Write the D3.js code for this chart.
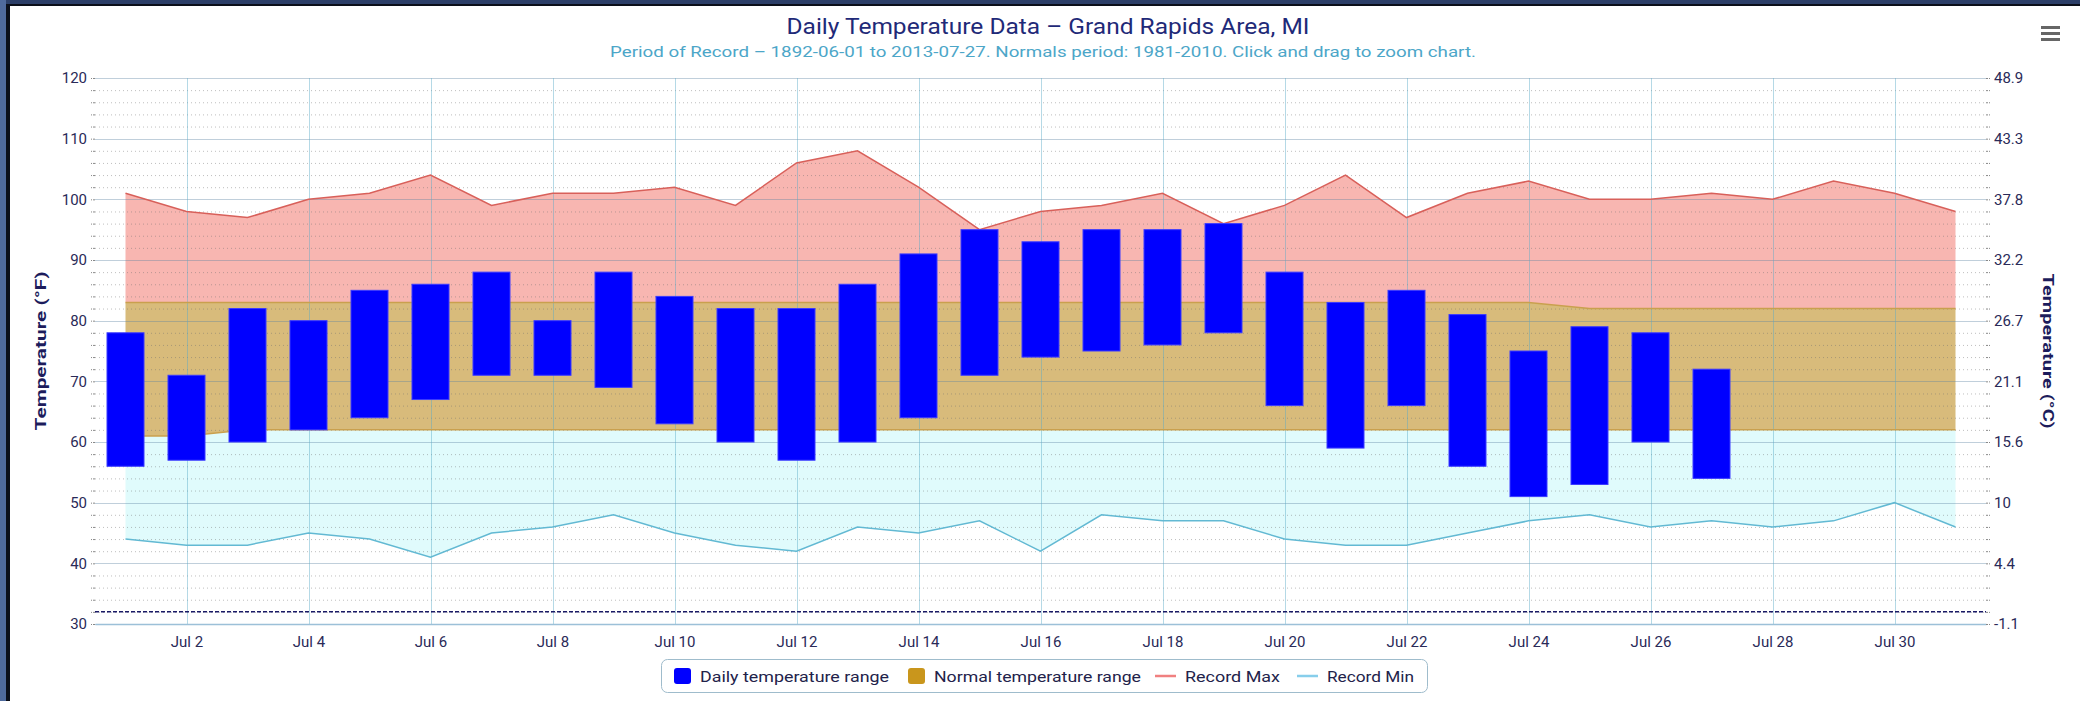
<!DOCTYPE html>
<html><head><meta charset="utf-8">
<script src="https://cdn.jsdelivr.net/npm/d3@7/dist/d3.min.js"></script>
<style>html,body{margin:0;padding:0;background:#fff;} svg{display:block;}</style>
</head><body><svg id="c" width="2080" height="701"></svg>
<script>
// ---------- data ----------
const days = [1,2,3,4,5,6,7,8,9,10,11,12,13,14,15,16,17,18,19,20,21,22,23,24,25,26,27,28,29,30,31];
const recordMax = [101,98,97,100,101,104,99,101,101,102,99,106,108,102,95,98,99,101,96,99,104,97,101,103,100,100,101,100,103,101,98];
const recordMin = [44,43,43,45,44,41,45,46,48,45,43,42,46,45,47,42,48,47,47,44,43,43,45,47,48,46,47,46,47,50,46];
const normalHigh = [83,83,83,83,83,83,83,83,83,83,83,83,83,83,83,83,83,83,83,83,83,83,83,83,82,82,82,82,82,82,82];
const normalLow = [61,61,62,62,62,62,62,62,62,62,62,62,62,62,62,62,62,62,62,62,62,62,62,62,62,62,62,62,62,62,62];
const barDays = [1,2,3,4,5,6,7,8,9,10,11,12,13,14,15,16,17,18,19,20,21,22,23,24,25,26,27];
const dailyHigh = [78,71,82,80,85,86,88,80,88,84,82,82,86,91,95,93,95,95,96,88,83,85,81,75,79,78,72];
const dailyLow  = [56,57,60,62,64,67,71,71,69,63,60,57,60,64,71,74,75,76,78,66,59,66,56,51,53,60,54];
const xTickDays = [2,4,6,8,10,12,14,16,18,20,22,24,26,28,30];
const fTicks = [30,40,50,60,70,80,90,100,110,120];
const cTickLabels = ["-1.1","4.4","10","15.6","21.1","26.7","32.2","37.8","43.3","48.9"];
const freezingF = 32;
const titleText = "Daily Temperature Data – Grand Rapids Area, MI";
const subtitleText = "Period of Record – 1892-06-01 to 2013-07-27. Normals period: 1981-2010. Click and drag to zoom chart.";
const legendItems = ["Daily temperature range","Normal temperature range","Record Max","Record Min"];

// ---------- layout ----------
const FONT = "Roboto, 'Noto Sans', sans-serif";
const L = 95, R = 1986, T = 78, B = 624;
const svg = d3.select("#c");
const date = d => new Date(Date.UTC(2013, 6, d));
const x = d3.scaleUtc().domain([Date.UTC(2013,5,30,12), Date.UTC(2013,6,31,12)]).range([L, R]);
const y = d3.scaleLinear().domain([30, 120]).range([B, T]);

// frame
svg.append("rect").attr("x",0).attr("y",0).attr("width",2080).attr("height",701).attr("fill","#fff");
svg.append("rect").attr("x",0).attr("y",0).attr("width",2080).attr("height",4).attr("fill","#2c3f68");
svg.append("rect").attr("x",0).attr("y",4).attr("width",2080).attr("height",2).attr("fill","#0b0f1a");
svg.append("rect").attr("x",0).attr("y",0).attr("width",6).attr("height",701).attr("fill","#4f6a9c");
svg.append("rect").attr("x",6).attr("y",4).attr("width",4).attr("height",697).attr("fill","#0b0f1a");

const rows = days.map((d,i)=>({day:d, rmax:recordMax[i], rmin:recordMin[i], nh:normalHigh[i], nl:normalLow[i]}));
const xd = r => x(date(r.day));

// areas
svg.append("path").datum(rows).attr("fill","#f8b6b1")
  .attr("d", d3.area().x(xd).y0(r=>y(r.nh)).y1(r=>y(r.rmax)));
svg.append("path").datum(rows).attr("fill","#e0fbfc")
  .attr("d", d3.area().x(xd).y0(r=>y(r.rmin)).y1(r=>y(r.nl)));
svg.append("path").datum(rows).attr("fill","#d8bb7b")
  .attr("d", d3.area().x(xd).y0(r=>y(r.nl)).y1(r=>y(r.nh)));

// grid
const minor = d3.range(30, 121, 2).filter(v => v % 10 !== 0);
svg.append("g").selectAll("line").data(minor).join("line")
  .attr("x1",L).attr("x2",R).attr("y1",d=>y(d)+0.5).attr("y2",d=>y(d)+0.5)
  .attr("stroke","rgba(110,110,110,0.45)").attr("stroke-dasharray","1,3");
svg.append("g").selectAll("line").data(fTicks).join("line")
  .attr("x1",L).attr("x2",R).attr("y1",d=>Math.round(y(d))+0.5).attr("y2",d=>Math.round(y(d))+0.5)
  .attr("stroke","rgba(90,130,160,0.38)");
svg.append("g").selectAll("line").data(xTickDays).join("line")
  .attr("x1",d=>Math.round(x(date(d)))+0.5).attr("x2",d=>Math.round(x(date(d)))+0.5)
  .attr("y1",T).attr("y2",B).attr("stroke","rgba(90,170,200,0.45)");

// boundary lines
svg.append("path").datum(rows).attr("fill","none").attr("stroke","#c9a04e").attr("stroke-width",1.5)
  .attr("d", d3.line().x(xd).y(r=>y(r.nh)));
svg.append("path").datum(rows).attr("fill","none").attr("stroke","#c9a04e").attr("stroke-width",1.5)
  .attr("d", d3.line().x(xd).y(r=>y(r.nl)));
svg.append("path").datum(rows).attr("fill","none").attr("stroke","#d8605a").attr("stroke-width",1.5)
  .attr("d", d3.line().x(xd).y(r=>y(r.rmax)));
svg.append("path").datum(rows).attr("fill","none").attr("stroke","#62b9d3").attr("stroke-width",1.5)
  .attr("d", d3.line().x(xd).y(r=>y(r.rmin)));

// freezing line
svg.append("line").attr("x1",L).attr("x2",R).attr("y1",y(freezingF)).attr("y2",y(freezingF))
  .attr("stroke","#1a1a66").attr("stroke-width",1.5).attr("stroke-dasharray","4,2");

// bars
const bw = 37;
svg.append("g").selectAll("rect").data(barDays).join("rect")
  .attr("x",(d)=>x(date(d))-bw/2).attr("width",bw)
  .attr("y",(d,i)=>y(dailyHigh[i])).attr("height",(d,i)=>y(dailyLow[i])-y(dailyHigh[i]))
  .attr("fill","#0000ff").attr("stroke","#3a3aff").attr("stroke-width",1);

// axes
const labelColor = "#2a2a58";
const xAxis = svg.append("g").attr("transform",`translate(0,${B})`)
  .call(d3.axisBottom(x).tickValues(xTickDays.map(date)).tickFormat(d3.utcFormat("%b %-d")).tickSize(0).tickPadding(12));
xAxis.select(".domain").attr("stroke","#9cc0d8").attr("stroke-width",1.5);
xAxis.selectAll("text").attr("font-family",FONT).attr("font-size",15).attr("fill",labelColor);

const allTicks = d3.range(30,121,2);
const yl = svg.append("g").attr("transform",`translate(${L},0)`)
  .call(d3.axisLeft(y).tickValues(allTicks).tickSize(4).tickPadding(4)
    .tickFormat(d => fTicks.includes(d) ? d : ""));
yl.select(".domain").remove();
yl.selectAll("line").attr("stroke","#888").attr("stroke-dasharray","2,1");
yl.selectAll("text").attr("font-family",FONT).attr("font-size",15).attr("fill",labelColor);

const yr = svg.append("g").attr("transform",`translate(${R},0)`)
  .call(d3.axisRight(y).tickValues(allTicks).tickSize(4).tickPadding(4)
    .tickFormat(d => fTicks.includes(d) ? cTickLabels[fTicks.indexOf(d)] : ""));
yr.select(".domain").remove();
yr.selectAll("line").attr("stroke","#888").attr("stroke-dasharray","2,1");
yr.selectAll("text").attr("font-family",FONT).attr("font-size",15).attr("fill",labelColor);

// axis titles
svg.append("text").attr("transform",`translate(46,${(T+B)/2}) rotate(-90)`)
  .attr("text-anchor","middle").attr("font-family",FONT).attr("font-weight","bold")
  .attr("font-size",15).attr("fill","#1c1c5c").attr("textLength",159).attr("lengthAdjust","spacingAndGlyphs")
  .text("Temperature (°F)");
svg.append("text").attr("transform",`translate(2043,${(T+B)/2}) rotate(90)`)
  .attr("text-anchor","middle").attr("font-family",FONT).attr("font-weight","bold")
  .attr("font-size",15).attr("fill","#1c1c5c").attr("textLength",155).attr("lengthAdjust","spacingAndGlyphs")
  .text("Temperature (°C)");

// titles
svg.append("text").attr("x",1048).attr("y",34).attr("text-anchor","middle")
  .attr("font-family",FONT).attr("font-size",22).attr("fill","#1f2a78")
  .attr("textLength",523).attr("lengthAdjust","spacingAndGlyphs").text(titleText);
svg.append("text").attr("x",1043).attr("y",57).attr("text-anchor","middle")
  .attr("font-family",FONT).attr("font-size",14.5).attr("fill","#4ca6c8")
  .attr("textLength",866).attr("lengthAdjust","spacingAndGlyphs").text(subtitleText);

// menu icon
[0,1,2].forEach(i => svg.append("rect").attr("x",2041).attr("y",26+i*6).attr("width",19).attr("height",3)
  .attr("fill","#666"));

// legend
const lg = svg.append("g");
lg.append("rect").attr("x",661.5).attr("y",659.5).attr("width",766).attr("height",33).attr("rx",6)
  .attr("fill","#fff").attr("stroke","#9fbccc");
const textX = [700, 934, 1185, 1327], textW = [189, 207, 95, 87];
const symColor = ["#0000ff","#c9961c","#f08080","#87ceeb"];
legendItems.forEach((t,i) => {
  if (i < 2) {
    lg.append("rect").attr("x",textX[i]-26).attr("y",668).attr("width",17).attr("height",16).attr("rx",3).attr("fill",symColor[i]);
  } else {
    lg.append("line").attr("x1",textX[i]-30).attr("x2",textX[i]-9).attr("y1",676).attr("y2",676)
      .attr("stroke",symColor[i]).attr("stroke-width",2.5);
  }
  lg.append("text").attr("x",textX[i]).attr("y",682).attr("font-family",FONT).attr("font-size",15.5)
    .attr("fill","#22224a").attr("textLength",textW[i]).attr("lengthAdjust","spacingAndGlyphs").text(t);
});
</script>
</body></html>
